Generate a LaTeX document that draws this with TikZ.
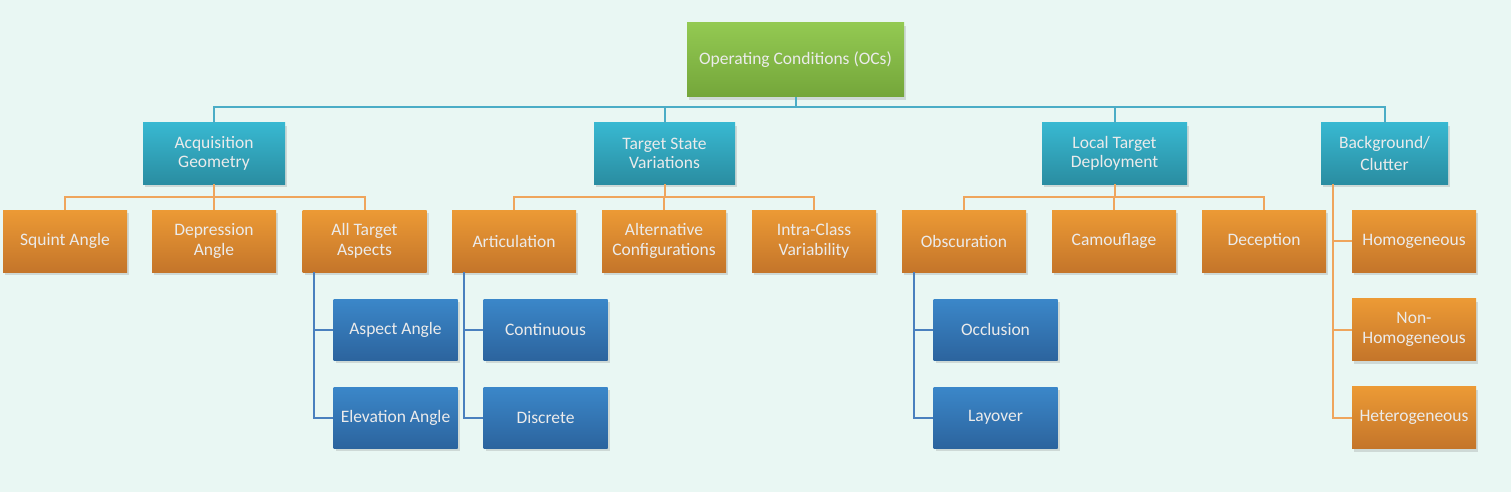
\documentclass[tikz,border=0pt]{standalone}
\usepackage{fontspec}
\setmainfont{Carlito}
\usetikzlibrary{shadows}
\definecolor{bgc}{HTML}{E9F7F3}
\definecolor{greentop}{HTML}{93C952}
\definecolor{greenbot}{HTML}{74A63A}
\definecolor{tealtop}{HTML}{38B8D1}
\definecolor{tealbot}{HTML}{2A8DA1}
\definecolor{orangetop}{HTML}{EC9A35}
\definecolor{orangebot}{HTML}{C4752A}
\definecolor{bluetop}{HTML}{3B87C9}
\definecolor{bluebot}{HTML}{2C649E}
\definecolor{tealline}{HTML}{4BADC6}
\definecolor{orangeline}{HTML}{EFA55C}
\definecolor{blueline}{HTML}{4A80BE}
\begin{document}
\begin{tikzpicture}[x=1pt,y=-1pt,
  box/.style={minimum width=124pt,minimum height=62pt,inner sep=2pt,align=center,
    text=white!92!black,font=\fontsize{17.5}{19.5}\selectfont,
    drop shadow={shadow xshift=2pt,shadow yshift=-3pt,opacity=0.25}},
  rootbox/.style={box,top color=greentop,bottom color=greenbot,minimum width=217pt,minimum height=74pt},
  catbox/.style={box,top color=tealtop,bottom color=tealbot,minimum height=61pt},
  leafbox/.style={box,top color=orangetop,bottom color=orangebot},
  subbox/.style={box,top color=bluetop,bottom color=bluebot,minimum height=61pt},
  tline/.style={draw=tealline,line width=2pt},
  oline/.style={draw=orangeline,line width=2pt},
  bline/.style={draw=blueline,line width=2pt}]
\fill[bgc] (0,0) rectangle (1511,492);

\coordinate (bus) at (0,107);
\coordinate (obus) at (0,197);

\node[rootbox] (root) at (795.5,60) {Operating Conditions (OCs)};

\node[catbox,minimum width=142pt] (acq) at (214,153.5) {Acquisition\\Geometry};
\node[catbox,minimum width=141pt] (tsv) at (664.5,153.5) {Target State\\Variations};
\node[catbox,minimum width=145pt] (ltd) at (1114.5,153.5) {Local Target\\Deployment};
\node[catbox,minimum width=127pt] (bgr) at (1384.5,153.5) {Background/\\[2pt]Clutter};

\node[leafbox] (squint) at (65,241) {Squint Angle};
\node[leafbox] (depr) at (214,241) {Depression\\Angle};
\node[leafbox] (ata) at (364.5,241) {All Target\\Aspects};
\node[leafbox] (art) at (514,241) {Articulation};
\node[leafbox] (alt) at (664,241) {Alternative\\Configurations};
\node[leafbox] (icv) at (814,241) {Intra-Class\\Variability};
\node[leafbox] (obs) at (964,241) {Obscuration};
\node[leafbox] (cam) at (1114,241) {Camouflage};
\node[leafbox] (dec) at (1264,241) {Deception};

\node[leafbox] (homo) at (1414,241) {Homogeneous};
\node[leafbox] (nonhomo) at (1414,329.5) {Non-\\Homogeneous};
\node[leafbox] (hetero) at (1414,417.5) {Heterogeneous};

\node[subbox] (asp) at (395.5,329.5) {Aspect Angle};
\node[subbox] (elev) at (395.5,417.5) {Elevation Angle};
\node[subbox] (cont) at (545.5,329.5) {Continuous};
\node[subbox] (disc) at (545.5,417.5) {Discrete};
\node[subbox] (occl) at (995.5,329.5) {Occlusion};
\node[subbox] (lay) at (995.5,417.5) {Layover};

% root to categories
\foreach \c in {acq,tsv,ltd,bgr}
  \draw[tline] (root.south) -- (root.south |- bus) -| (\c.north);

% categories to leaves
\foreach \c/\l in {acq/squint,acq/depr,acq/ata,tsv/art,tsv/alt,tsv/icv,ltd/obs,ltd/cam,ltd/dec}
  \draw[oline] (\c.south) -- (\c.south |- obus) -| (\l.north);
\foreach \l in {homo,nonhomo,hetero}
  \draw[oline] ([xshift=12pt]bgr.south west) |- (\l.west);

% leaves to sub-leaves
\foreach \p/\s in {ata/asp,ata/elev,art/cont,art/disc,obs/occl,obs/lay}
  \draw[bline] ([xshift=12pt]\p.south west) |- (\s.west);
\end{tikzpicture}
\end{document}
